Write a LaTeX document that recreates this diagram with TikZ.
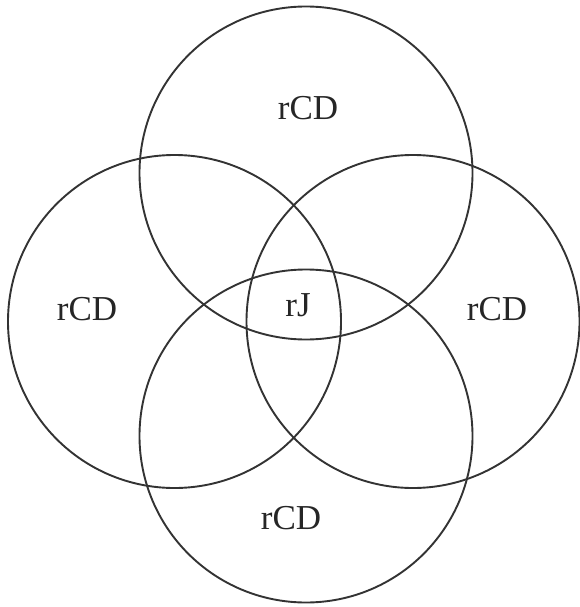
\documentclass[tikz,border=0pt]{standalone}
\usepackage{fontspec}
\setmainfont{Liberation Serif}
\begin{document}
\begin{tikzpicture}[x=1pt,y=-1pt,
  ring/.style={circle,draw=black!80,line width=1.9pt,minimum size=333pt,inner sep=0pt},
  lbl/.style={font=\fontsize{35}{37}\selectfont,text=black!85}]
\useasboundingbox (0,0) rectangle (580,607);
\node[ring] (top) at (306,173) {};
\node[ring] (bot) at (306,436) {};
\node[ring] (lft) at (174.5,321.5) {};
\node[ring] (rgt) at (413,321.5) {};
\node[lbl] (ttop) at (308,108) {rCD};
\node[lbl] (tlft) at (87,309) {rCD};
\node[lbl] (trgt) at (497,309) {rCD};
\node[lbl] (tbot) at (291,518) {rCD};
\node[lbl] (tmid) at (298,305) {rJ};
\end{tikzpicture}
\end{document}
